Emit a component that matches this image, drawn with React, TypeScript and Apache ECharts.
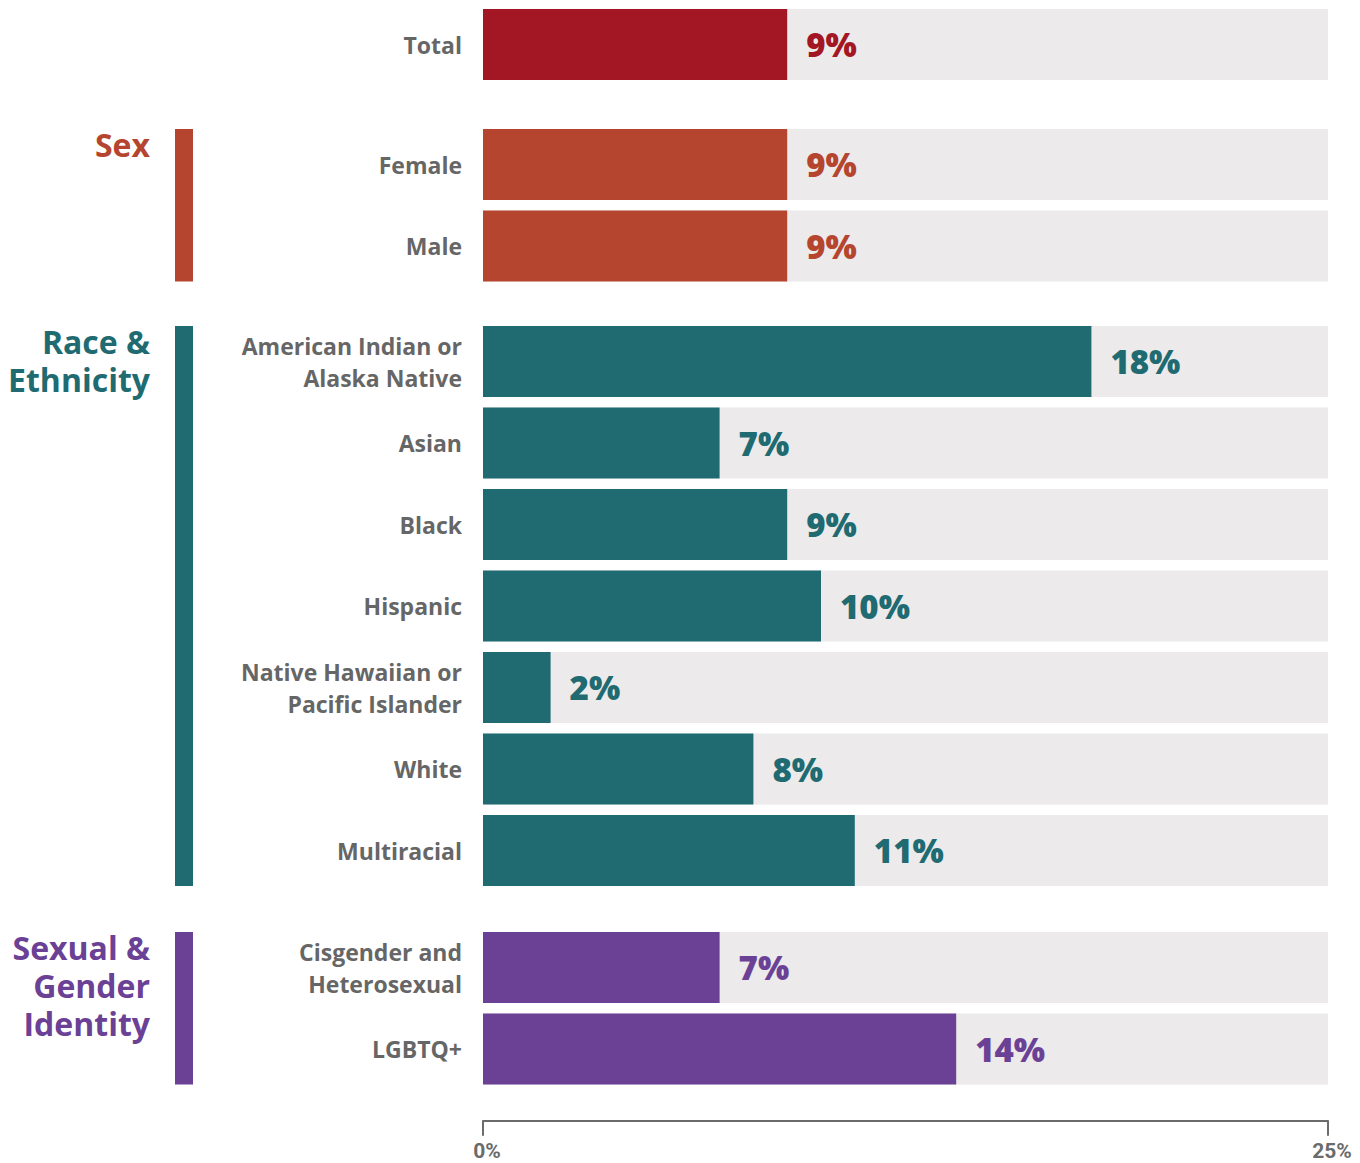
import React, { useEffect, useRef } from "react";
import * as echarts from "echarts";

const totalCats = ["Total"];
const totalVals = [9];
const sexCats = ["Female", "Male"];
const sexVals = [9, 9];
const raceCats = [
  "American Indian or\nAlaska Native",
  "Asian",
  "Black",
  "Hispanic",
  "Native Hawaiian or\nPacific Islander",
  "White",
  "Multiracial",
];
const raceVals = [18, 7, 9, 10, 2, 8, 11];
const sgiCats = ["Cisgender and\nHeterosexual", "LGBTQ+"];
const sgiVals = [7, 14];
const groupTitles = ["", "Sex", "Race &\nEthnicity", "Sexual &\nGender\nIdentity"];
const axisTicks = [0, 25];

const groups = [
  { cats: totalCats, vals: totalVals, color: "#A31623", title: groupTitles[0], top: 3.75 },
  { cats: sexCats, vals: sexVals, color: "#B5452E", title: groupTitles[1], top: 123.75 },
  { cats: raceCats, vals: raceVals, color: "#1F6B71", title: groupTitles[2], top: 320.75 },
  { cats: sgiCats, vals: sgiVals, color: "#6B4196", title: groupTitles[3], top: 926.75 },
];

const PITCH = 81.5;
const BAR = 71;
const FONT = "'Open Sans', Lato, sans-serif";

export default function App() {
  const ref = useRef<HTMLDivElement>(null);
  useEffect(() => {
    if (!ref.current) return;
    const chart = echarts.init(ref.current, null, { renderer: "svg" });
    const last = groups.length - 1;
    const grids = groups.map((g) => ({
      left: 483,
      right: 32,
      top: g.top,
      height: g.cats.length * PITCH,
    }));
    const xAxes = groups.map((g, i) => ({
      type: "value",
      gridIndex: i,
      min: axisTicks[0],
      max: axisTicks[1],
      interval: axisTicks[1] - axisTicks[0],
      show: i === last,
      position: "bottom",
      offset: 31,
      splitLine: { show: false },
      axisLine: { show: true, lineStyle: { color: "#6b6b6b", width: 2 } },
      axisTick: { show: true, inside: false, length: 15, lineStyle: { color: "#6b6b6b", width: 2 } },
      axisLabel: {
        show: true,
        formatter: (v: number) => `${v}%`,
        color: "#6b6b6b",
        fontFamily: "Roboto, sans-serif",
        fontWeight: "bold",
        fontSize: 21,
        margin: 20,
        padding: [0, 0, 0, 8],
      },
    }));
    const yAxes = groups.map((g, i) => ({
      type: "category",
      gridIndex: i,
      data: g.cats,
      inverse: true,
      axisLine: { show: false },
      axisTick: { show: false },
      axisLabel: {
        color: "#666666",
        fontFamily: FONT,
        fontWeight: "bold",
        fontSize: 23,
        lineHeight: 32,
        margin: 21,
      },
    }));
    const series = groups.map((g, i) => ({
      type: "bar",
      xAxisIndex: i,
      yAxisIndex: i,
      data: g.vals,
      barWidth: BAR,
      itemStyle: { color: g.color },
      showBackground: true,
      backgroundStyle: { color: "#ECEAEB" },
      label: {
        show: true,
        position: "right",
        distance: 19,
        formatter: "{c}%",
        color: g.color,
        fontFamily: FONT,
        fontWeight: 800,
        fontSize: 33,
      },
    }));
    const graphic: any[] = [];
    groups.forEach((g) => {
      if (!g.title) return;
      const y0 = g.top + (PITCH - BAR) / 2;
      const h = (g.cats.length - 1) * PITCH + BAR;
      graphic.push({
        type: "rect",
        shape: { x: 175, y: y0, width: 18, height: h },
        style: { fill: g.color },
      });
      graphic.push({
        type: "text",
        x: 150,
        y: y0 - 4,
        style: {
          text: g.title,
          fill: g.color,
          font: `bold 32px ${FONT}`,
          lineHeight: 38,
          align: "right",
          verticalAlign: "top",
        },
      });
    });
    chart.setOption({
      animation: false,
      backgroundColor: "#ffffff",
      grid: grids,
      xAxis: xAxes,
      yAxis: yAxes,
      series,
      graphic,
    });
    return () => chart.dispose();
  }, []);
  return (
    <div
      ref={ref}
      style={{ position: "absolute", left: 0, top: 0, width: 1360, height: 1163 }}
    />
  );
}
